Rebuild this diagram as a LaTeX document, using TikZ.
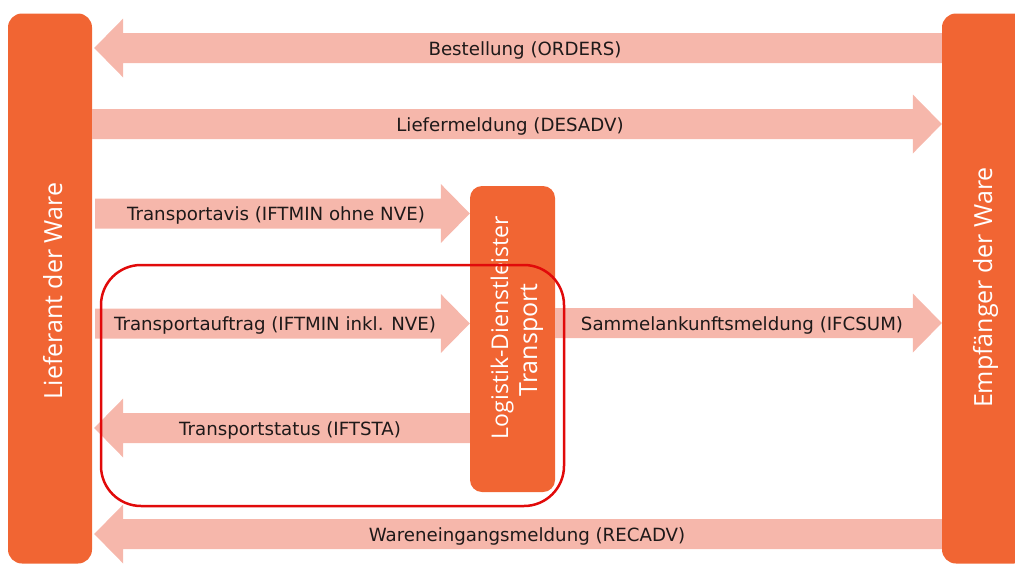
\documentclass[tikz,border=0pt]{standalone}
\usepackage{fontspec}
\setmainfont{DejaVu Sans}
\newfontfamily\barfont{Open Sans}
\usetikzlibrary{calc}

\definecolor{barorange}{RGB}{241,101,51}
\definecolor{msgpink}{RGB}{246,183,171}
\definecolor{msgink}{RGB}{30,25,25}
\definecolor{framered}{RGB}{225,10,10}

\tikzset{
  party/.style={fill=barorange, draw=none, rounded corners=14pt, inner sep=0pt},
  partytext/.style={text=white, font=\barfont\fontsize{25}{30}\selectfont,
    rotate=90, anchor=base, inner sep=0pt},
  msg/.style={fill=msgpink, draw=none},
  msgtext/.style={text=msgink, font=\fontsize{18.2}{22}\selectfont,
    anchor=base, inner sep=0pt},
  groupframe/.style={draw=framered, line width=2.5pt, rounded corners=40pt,
    inner sep=0pt},
}

% block arrow pointing left: tip point, tail point, centre line y
\newcommand\msgleft[3]{%
  \coordinate (my) at (0,#3);
  \fill[msg] (#1 |- my) -- ++(29,-29.5) -- ++(0,14.5)
    -- ($(#2 |- my)+(0,-15)$) -- ($(#2 |- my)+(0,15)$)
    -- ($(#1 |- my)+(29,15)$) -- ++(0,14.5) -- cycle;}
% block arrow pointing right: tail point, tip point, centre line y
\newcommand\msgright[3]{%
  \coordinate (my) at (0,#3);
  \fill[msg] (#2 |- my) -- ++(-29,-29.5) -- ++(0,14.5)
    -- ($(#1 |- my)+(0,-15)$) -- ($(#1 |- my)+(0,15)$)
    -- ($(#2 |- my)+(-29,15)$) -- ++(0,14.5) -- cycle;}

\begin{document}
\begin{tikzpicture}[x=1pt,y=-1pt]
\useasboundingbox (0,0) rectangle (1015,565);

% parties
\node[party, minimum width=84pt, minimum height=550pt] (lief) at (50,288.5) {};
\node[party, minimum width=86pt, minimum height=550pt] (empf) at (985,288.5) {};
\node[party, rounded corners=12pt, minimum width=85pt, minimum height=306pt] (ldl) at (512.5,339) {};

\coordinate (lx) at ([xshift=2pt]lief.east);
\coordinate (lt) at ([xshift=3pt]lief.east);

% messages
\msgleft{lx}{empf.west}{48}
\msgright{lief.east}{empf.west}{124}
\msgright{lt}{ldl.west}{213.5}
\msgright{lt}{ldl.west}{323.5}
\msgright{ldl.east}{empf.west}{323}
\msgleft{lx}{ldl.west}{428}
\msgleft{lx}{empf.west}{534}

\node[msgtext] (m1) at (525,55) {Bestellung (ORDERS)};
\node[msgtext] (m2) at (510,131) {Liefermeldung (DESADV)};
\node[msgtext] (m3) at (276,220.5) {Transportavis (IFTMIN ohne NVE)};
\node[msgtext] (m4) at (275,330.5) {Transportauftrag (IFTMIN inkl. NVE)};
\node[msgtext] (m5) at (742,330.5) {Sammelankunftsmeldung (IFCSUM)};
\node[msgtext] (m6) at (290,435) {Transportstatus (IFTSTA)};
\node[msgtext] (m7) at (527,541) {Wareneingangsmeldung (RECADV)};

% party names
\node[partytext] (liefT) at (62,291) {Lieferant der Ware};
\node[partytext] (empfT) at (992,287.5) {Empfänger der Ware};
\node[partytext, font=\barfont\fontsize{23}{28}\selectfont] (ldlA) at (508,327.5) {Logistik-Dienstleister};
\node[partytext] (ldlB) at (537,340) {Transport};

% transport order group
\node[groupframe, minimum width=463pt, minimum height=241pt] (grp) at (332.5,385.5) {};
\end{tikzpicture}
\end{document}
